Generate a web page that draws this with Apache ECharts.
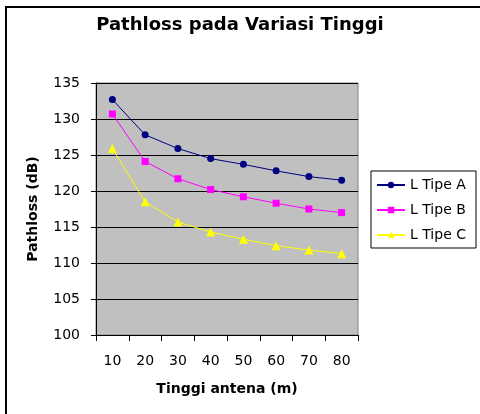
<!DOCTYPE html>
<html><head><meta charset="utf-8">
<script src="https://cdn.jsdelivr.net/npm/echarts@6/dist/echarts.min.js"></script>
<style>html,body{margin:0;padding:0;background:#fff}#c{width:480px;height:414px}</style>
</head><body><div id="c"></div>
<script>
const categories = ['10','20','30','40','50','60','70','80'];
const tipeA = [132.7, 127.8, 125.9, 124.5, 123.7, 122.8, 122.0, 121.5];
const tipeB = [130.7, 124.1, 121.7, 120.2, 119.2, 118.3, 117.5, 117.0];
const tipeC = [125.9, 118.5, 115.7, 114.3, 113.3, 112.4, 111.8, 111.3];
const seriesNames = ['L Tipe A', 'L Tipe B', 'L Tipe C'];

const F = 'DejaVu Sans, sans-serif';
const chart = echarts.init(document.getElementById('c'), null, {renderer:'canvas'});
function mk(name, data, color, symbol, size){
  return {name, type:'line', data, symbol, symbolSize:size,
    lineStyle:{color, width:1}, itemStyle:{color}, animation:false};
}
chart.setOption({
  animation:false,
  title:{text:'Pathloss pada Variasi Tinggi', left:'center', top:11,
    textStyle:{fontFamily:F, fontSize:18, fontWeight:'bold', color:'#000'}},
  graphic:[{type:'rect', shape:{x:6, y:7, width:480, height:420},
    style:{fill:'none', stroke:'#000', lineWidth:2}, z:-1}],
  legend:{orient:'vertical', left:371, top:171, padding:[7,10,6,5], itemGap:11,
    itemWidth:28, itemHeight:8, borderColor:'#000', borderWidth:1,
    textStyle:{fontFamily:F, fontSize:14, color:'#000'}, data:seriesNames},
  grid:{left:96, top:83, width:262, height:252, show:true, backgroundColor:'#C0C0C0',
    borderColor:'#808080', borderWidth:1},
  xAxis:{type:'category', data:categories, boundaryGap:true,
    name:'Tinggi antena (m)', nameLocation:'middle', nameGap:47,
    nameTextStyle:{fontFamily:F, fontSize:14, fontWeight:'bold', color:'#000'},
    axisLine:{lineStyle:{color:'#000'}},
    axisTick:{show:true, length:6, alignWithLabel:false, lineStyle:{color:'#000'}},
    axisLabel:{fontFamily:F, fontSize:14, color:'#000', margin:19}},
  yAxis:{type:'value', min:100, max:135, interval:5,
    name:'Pathloss (dB)', nameLocation:'middle', nameGap:56,
    nameTextStyle:{fontFamily:F, fontSize:14, fontWeight:'bold', color:'#000'},
    axisLine:{show:true, lineStyle:{color:'#000'}},
    axisTick:{show:true, length:5, lineStyle:{color:'#000'}},
    axisLabel:{fontFamily:F, fontSize:14, color:'#000', margin:16},
    splitLine:{show:true, lineStyle:{color:'#000', width:1}}},
  series:[
    mk(seriesNames[0], tipeA, '#000080', 'circle', 7),
    mk(seriesNames[1], tipeB, '#FF00FF', 'rect', 7),
    mk(seriesNames[2], tipeC, '#FFFF00', 'triangle', 9)
  ]
});
</script></body></html>
